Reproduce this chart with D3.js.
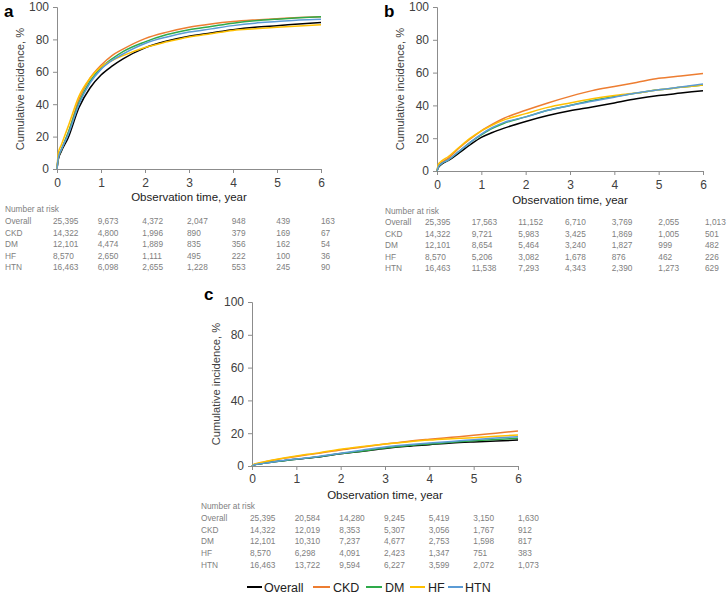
<!DOCTYPE html>
<html><head><meta charset="utf-8">
<script src="https://cdn.jsdelivr.net/npm/d3@7"></script>
<style>
html,body{margin:0;padding:0;background:#fff;}
svg{display:block;font-family:"Liberation Sans",Arial,sans-serif;}
</style></head>
<body>
<svg id="chart" width="728" height="594"></svg>
<script>
// ---------- DATA ----------
const seriesNames = ["Overall", "CKD", "DM", "HF", "HTN"];
const seriesColors = ["#000000", "#ED7D31", "#2EAA4A", "#FFC000", "#5B9BD5"];
const times = [0, 0.03, 0.1, 0.25, 0.5, 0.75, 1, 1.25, 1.5, 2, 2.5, 3, 3.5, 4, 4.5, 5, 5.5, 6];
const xTicks = [0, 1, 2, 3, 4, 5, 6];
const yTicks = [0, 20, 40, 60, 80, 100];
const riskTimes = [0, 1, 2, 3, 4, 5, 6];

// Panel a
const aOverall = [0, 6, 11, 19, 38, 50, 58, 63.5, 68, 74.8, 79, 82, 84, 86, 87.5, 88.5, 89.5, 90.5];
const aCKD     = [0, 7, 12, 22, 43, 56, 64, 70, 74, 80.5, 84.5, 87.5, 89.5, 91, 92, 92.8, 93.5, 94];
const aDM      = [0, 7, 12, 22, 41, 54, 62.5, 68, 72.5, 78.5, 83, 86, 88, 90, 91.5, 92.5, 93.3, 94];
const aHF      = [0, 10, 15, 26, 45, 56, 63, 67, 70, 75, 78.5, 81.5, 83.5, 85.5, 86.5, 87.5, 88.3, 89];
const aHTN     = [0, 7, 12, 21, 40, 53, 61.5, 67, 71, 77.5, 81.5, 84.5, 86.5, 88.5, 90, 91, 92, 92.5];
// Panel b
const bOverall = [0, 2, 4, 6.3, 11, 16, 20.5, 23.5, 26, 30.2, 33.8, 36.7, 39, 41.5, 44, 46, 47.5, 49];
const bCKD     = [0, 3, 5, 7.7, 14, 19.5, 24.5, 28.5, 32, 37, 41.5, 45.5, 49, 51.5, 54, 56.5, 58, 59.5];
const bDM      = [0, 2.5, 4.5, 6.7, 12, 17.5, 22, 26, 29, 33, 37, 40, 43, 45.5, 47.5, 49.5, 51, 52.5];
const bHF      = [0, 4, 6, 8.7, 14.5, 20, 24.5, 28, 31, 35, 38.8, 41.5, 44, 46, 47.5, 49.5, 51, 52.5];
const bHTN     = [0, 2.5, 4.5, 6.7, 12, 17.5, 22.5, 26.5, 29.5, 33, 37, 40, 42.5, 45, 47.5, 49.5, 51.2, 53];
// Panel c
const cOverall = [0, 0.5, 1, 1.6, 2.6, 3.4, 4.1, 4.8, 5.5, 7.5, 9, 10.7, 12, 13, 14, 14.7, 15.3, 15.8];
const cCKD     = [0, 0.7, 1.3, 2.3, 3.6, 4.8, 5.8, 6.8, 7.7, 9.8, 11.6, 13.4, 15, 16.3, 17.5, 18.7, 20, 21.3];
const cDM      = [0, 0.5, 1, 1.6, 2.6, 3.4, 4.1, 4.9, 5.6, 7.6, 9.2, 10.9, 12.3, 13.4, 14.5, 15.4, 16.2, 16.9];
const cHF      = [0, 0.8, 1.5, 2.5, 3.8, 5, 6.1, 7.1, 8, 10.2, 11.9, 13.4, 14.7, 15.8, 16.6, 17.3, 18.2, 18.9];
const cHTN     = [0, 0.5, 1, 1.6, 2.6, 3.5, 4.2, 5, 5.8, 7.8, 9.8, 11.6, 12.9, 14, 15, 16, 17, 17.9];

// Number at risk
const riskA = [
  [25395, 9673, 4372, 2047, 948, 439, 163],
  [14322, 4800, 1996, 890, 379, 169, 67],
  [12101, 4474, 1889, 835, 356, 162, 54],
  [8570, 2650, 1111, 495, 222, 100, 36],
  [16463, 6098, 2655, 1228, 553, 245, 90]
];
const riskB = [
  [25395, 17563, 11152, 6710, 3769, 2055, 1013],
  [14322, 9721, 5983, 3425, 1869, 1005, 501],
  [12101, 8654, 5464, 3240, 1827, 999, 482],
  [8570, 5206, 3082, 1678, 876, 462, 226],
  [16463, 11538, 7293, 4343, 2390, 1273, 629]
];
const riskC = [
  [25395, 20584, 14280, 9245, 5419, 3150, 1630],
  [14322, 12019, 8353, 5307, 3056, 1767, 912],
  [12101, 10310, 7237, 4677, 2753, 1598, 817],
  [8570, 6298, 4091, 2423, 1347, 751, 383],
  [16463, 13722, 9594, 6227, 3599, 2072, 1073]
];

// ---------- LAYOUT ----------
const panels = [
  {letter: "a", lx: 4, ly: 17, x0: 57, x1: 321, yTop: 7, yBot: 169,
   series: [aOverall, aCKD, aDM, aHF, aHTN], risk: riskA,
   ytx: 20, yty: 89, tickY: 187, titleY: 201,
   labX: 5, tab0: 53, tab1: 321, nrY: 212, rowY: [223.5, 235.5, 247, 259, 270]},
  {letter: "b", lx: 384, ly: 17, x0: 437, x1: 703, yTop: 7, yBot: 171,
   series: [bOverall, bCKD, bDM, bHF, bHTN], risk: riskB,
   ytx: 400, yty: 89, tickY: 188.5, titleY: 204,
   labX: 385, tab0: 425, tab1: 705, nrY: 214, rowY: [225, 236.5, 248, 259.5, 271]},
  {letter: "c", lx: 204, ly: 300, x0: 252, x1: 518, yTop: 302, yBot: 466,
   series: [cOverall, cCKD, cDM, cHF, cHTN], risk: riskC,
   ytx: 216, yty: 384, tickY: 482.5, titleY: 499,
   labX: 201, tab0: 250, tab1: 518, nrY: 509, rowY: [521, 532.5, 544, 555.5, 567.5]}
];

const svg = d3.select("#chart");
const fmt = d3.format(",");
const axisColor = "#8c8c8c";
const textColor = "#404040";
const tableColor = "#808080";

panels.forEach(p => {
  const x = d3.scaleLinear().domain([0, 6]).range([p.x0, p.x1]);
  const y = d3.scaleLinear().domain([0, 100]).range([p.yBot, p.yTop]);
  const g = svg.append("g");

  // panel letter
  g.append("text").attr("x", p.lx).attr("y", p.ly)
    .attr("font-size", 17).attr("font-weight", "bold").attr("fill", "#000")
    .text(p.letter);

  // y axis
  const ya = g.append("g").attr("transform", `translate(${p.x0},0)`)
    .call(d3.axisLeft(y).tickValues(yTicks).tickFormat(d3.format("d")).tickSize(4).tickPadding(4));
  // x axis
  const xa = g.append("g").attr("transform", `translate(0,${p.yBot})`)
    .call(d3.axisBottom(x).tickValues(xTicks).tickFormat(d3.format("d")).tickSize(4).tickPadding(3));
  [ya, xa].forEach(a => {
    a.select(".domain").attr("stroke", axisColor).attr("stroke-width", 1);
    a.selectAll(".tick line").attr("stroke", axisColor);
    a.selectAll(".tick text").attr("fill", textColor).attr("font-size", 12)
      .attr("font-family", "Liberation Sans, Arial, sans-serif");
  });
  xa.selectAll(".tick text").attr("dy", null).attr("y", p.tickY - p.yBot);

  // y-axis title
  g.append("text")
    .attr("transform", `translate(${p.ytx},${p.yty}) rotate(-90)`)
    .attr("text-anchor", "middle").attr("dy", "0.35em")
    .attr("font-size", 11.2).attr("fill", textColor)
    .text("Cumulative incidence, %");
  // x-axis title
  g.append("text").attr("x", (p.x0 + p.x1) / 2).attr("y", p.titleY)
    .attr("text-anchor", "middle").attr("font-size", 11.5).attr("fill", "#222")
    .text("Observation time, year");

  // curves
  const line = d3.line().x(d => x(d[0])).y(d => y(d[1])).curve(d3.curveMonotoneX);
  p.series.forEach((vals, i) => {
    g.append("path")
      .datum(times.map((t, j) => [t, vals[j]]))
      .attr("fill", "none").attr("stroke", seriesColors[i])
      .attr("stroke-width", 1.5).attr("d", line);
  });

  // number at risk table
  const tx = d3.scaleLinear().domain([0, 6]).range([p.tab0, p.tab1]);
  const tf = "Liberation Sans, Arial, sans-serif";
  g.append("text").attr("x", p.labX).attr("y", p.nrY)
    .attr("font-size", 8.3).attr("fill", tableColor).attr("font-family", tf)
    .text("Number at risk");
  p.risk.forEach((row, i) => {
    g.append("text").attr("x", p.labX).attr("y", p.rowY[i])
      .attr("font-size", 8.3).attr("fill", tableColor).attr("font-family", tf)
      .text(seriesNames[i]);
    row.forEach((v, j) => {
      g.append("text").attr("x", tx(riskTimes[j])).attr("y", p.rowY[i])
        .attr("font-size", 8.3).attr("fill", tableColor).attr("font-family", tf)
        .text(fmt(v));
    });
  });
});

// legend
const legendItems = [
  {x1: 247, x2: 262, tx: 264},
  {x1: 313, x2: 330, tx: 333},
  {x1: 366, x2: 382, tx: 385},
  {x1: 410, x2: 425, tx: 428},
  {x1: 448, x2: 463, tx: 465}
];
const lg = svg.append("g");
seriesNames.forEach((n, i) => {
  const it = legendItems[i];
  lg.append("line").attr("x1", it.x1).attr("x2", it.x2).attr("y1", 587).attr("y2", 587)
    .attr("stroke", seriesColors[i]).attr("stroke-width", 2);
  lg.append("text").attr("x", it.tx).attr("y", 591.5)
    .attr("font-size", 12.5).attr("fill", "#222").text(n);
});
</script>
</body></html>
